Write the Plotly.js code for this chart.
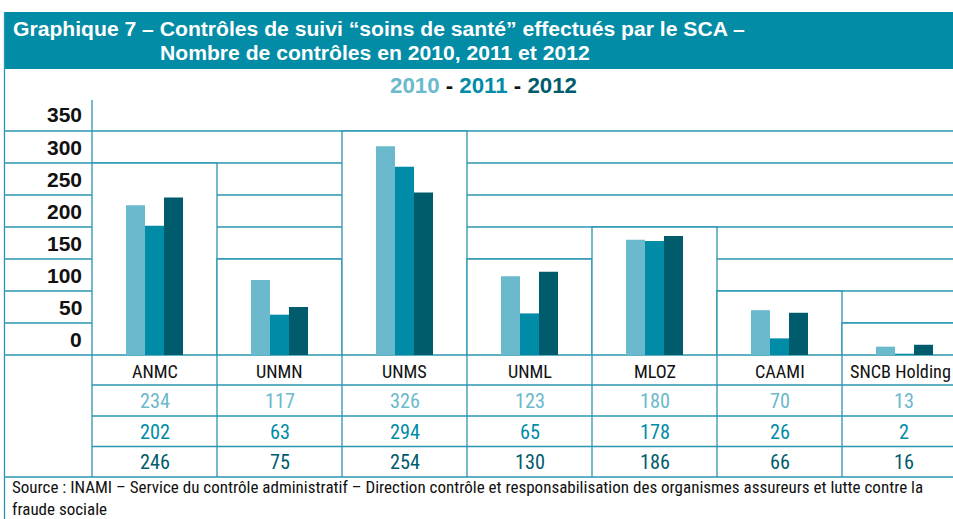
<!DOCTYPE html>
<html><head><meta charset="utf-8">
<script src="https://cdn.plot.ly/plotly-3.0.1.min.js"></script>
<style>html,body{margin:0;padding:0;background:#fff;}#chart{width:953px;height:519px;}</style>
</head><body><div id="chart"></div>
<script>
const categories = ["ANMC","UNMN","UNMS","UNML","MLOZ","CAAMI","SNCB Holding"];
const years = ["2010","2011","2012"];
const v2010 = [234,117,326,123,180,70,13];
const v2011 = [202,63,294,65,178,26,2];
const v2012 = [246,75,254,130,186,66,16];
const boxTop = [300,150,350,150,200,100,50];
const yTicks = [0,50,100,150,200,250,300,350];
const titleLine1 = "Graphique 7 – Contrôles de suivi “soins de santé” effectués par le SCA –";
const titleLine2 = "Nombre de contrôles en 2010, 2011 et 2012";
const sourceLine1 = "Source : INAMI – Service du contrôle administratif – Direction contrôle et responsabilisation des organismes assureurs et lutte contre la";
const sourceLine2 = "fraude sociale";

const colors = ["#6bb9cc","#008ca7","#005b6c"];
const lineCol = "#2b96af";
const W = 953, H = 519;
const px = x => x / W, py = y => 1 - y / H;
const BOLD = "'Liberation Sans',Arial,sans-serif";

// pick an installed narrow font and fit sizes to the reference text widths
const ctx = document.createElement("canvas").getContext("2d");
function width(font, text){ ctx.font = font; return ctx.measureText(text).width; }
function available(fam){
  const t = "abcdefghijklmnop 0123456789";
  return ["monospace","serif"].some(fb => Math.abs(width("40px '"+fam+"',"+fb, t) - width("40px "+fb, t)) > 0.5);
}
const narrowCandidates = ["Liberation Sans Narrow","Noto Sans Condensed","Roboto Condensed","Noto Sans ExtraCondensed","DejaVu Sans Condensed"];
let narrowFam = narrowCandidates.find(available) || "DejaVu Sans Condensed";
const NARROW = "'" + narrowFam + "',sans-serif";
function fitSize(fam, weight, text, target){ const w = width(weight+" 100px "+fam, text); return 100 * target / w; }
const srcSize = Math.min(18, fitSize(NARROW, "normal", sourceLine1, 912));
const catSize = Math.min(21, fitSize(NARROW, "normal", "SNCB Holding", 101));
const valSize = Math.min(22, fitSize(NARROW, "normal", "2340", 40));
const titleSize = fitSize(BOLD, "bold", titleLine1, 733);
const legSize = fitSize(BOLD, "bold", "2010 - 2011 - 2012", 187);

const series = [v2010, v2011, v2012];
const traces = series.map((vals, i) => ({
  type: "bar", x: categories, y: vals, name: years[i],
  marker: {color: colors[i], line: {width: 0}}, hoverinfo: "x+y+name", showlegend: false
}));

const shapes = [];
shapes.push({type:"rect", xref:"paper", yref:"paper", x0:px(4), x1:1, y0:py(69), y1:py(12), fillcolor:"#038ca6", line:{width:0}, layer:"below"});
[50,100,150,200,250,300,350,400].forEach(v => shapes.push({type:"line", xref:"paper", yref:"y", x0:px(4), x1:1, y0:v, y1:v, line:{color:lineCol, width:1.3}, layer:"below"}));
categories.forEach((c, i) => shapes.push({type:"rect", xref:"x", yref:"y", x0:i-0.5, x1:i+0.5, y0:0, y1:boxTop[i], fillcolor:"#ffffff", line:{color:lineCol, width:1.3}, layer:"below"}));
shapes.push({type:"line", xref:"paper", yref:"paper", x0:px(92), x1:px(92), y0:py(477), y1:py(100), line:{color:lineCol, width:1.3}, layer:"below"});
shapes.push({type:"line", xref:"paper", yref:"paper", x0:px(4.5), x1:px(4.5), y0:0, y1:py(12), line:{color:lineCol, width:1.3}, layer:"below"});
[355,385,416,446.5,477].forEach(y => shapes.push({type:"line", xref:"paper", yref:"paper", x0:(y===355||y===477)?px(4):px(92), x1:1, y0:py(y), y1:py(y), line:{color:lineCol, width:1.3}, layer:"below"}));
categories.forEach((c, i) => shapes.push({type:"line", xref:"x", yref:"paper", x0:i+0.5, x1:i+0.5, y0:py(477), y1:py(355), line:{color:lineCol, width:1.3}, layer:"below"}));

const annotations = [];
annotations.push({xref:"paper", yref:"paper", x:px(11), y:py(29), xanchor:"left", yanchor:"middle", showarrow:false,
  text:"<b>"+titleLine1+"</b>", font:{family:BOLD, size:titleSize, color:"#ffffff"}});
annotations.push({xref:"paper", yref:"paper", x:px(158), y:py(52), xanchor:"left", yanchor:"middle", showarrow:false,
  text:"<b>"+titleLine2+"</b>", font:{family:BOLD, size:titleSize, color:"#ffffff"}});
annotations.push({xref:"paper", yref:"paper", x:px(483), y:py(86), xanchor:"center", yanchor:"middle", showarrow:false,
  text:"<b><span style='color:"+colors[0]+"'>"+years[0]+"</span> - <span style='color:"+colors[1]+"'>"+years[1]+"</span> - <span style='color:"+colors[2]+"'>"+years[2]+"</span></b>",
  font:{family:BOLD, size:legSize, color:"#111111"}});
yTicks.forEach(v => annotations.push({xref:"paper", yref:"y", x:px(84), y:v+25, xanchor:"right", yanchor:"middle", showarrow:false,
  text:"<b>"+v+"</b>", font:{family:BOLD, size:21, color:"#111111"}}));
const rowY = [401, 431.5, 462];
categories.forEach((c, i) => {
  const last = i === categories.length - 1;
  annotations.push({xref:"x", yref:"paper", x:i, y:py(371), xanchor:"center", yanchor:"middle", showarrow:false, xshift: last ? -4 : 0,
    text:c, font:{family:NARROW, size:catSize, color:"#111111"}});
  series.forEach((s, k) => annotations.push({xref:"x", yref:"paper", x:i, y:py(rowY[k]), xanchor:"center", yanchor:"middle", showarrow:false, xshift: last ? -1 : 0,
    text:String(s[i]), font:{family:NARROW, size:valSize, color:colors[k]}}));
});
annotations.push({xref:"paper", yref:"paper", x:px(11), y:py(498), xanchor:"left", yanchor:"middle", align:"left", showarrow:false, borderpad:0,
  text:sourceLine1 + "<br>" + sourceLine2, font:{family:NARROW, size:srcSize, color:"#111111"}});

const layout = {
  width: W, height: H, margin: {l:0, r:0, t:0, b:0}, paper_bgcolor:"#ffffff", plot_bgcolor:"rgba(0,0,0,0)",
  barmode:"group", bargap:0.544, bargroupgap:0,
  xaxis: {domain:[px(92),1], range:[-0.5, -0.5 + (W-92)/125], type:"category", showgrid:false, zeroline:false, showticklabels:false, showline:false, fixedrange:true},
  yaxis: {domain:[py(355), py(100)], range:[0, 255/0.64], showgrid:false, zeroline:false, showticklabels:false, showline:false, fixedrange:true},
  shapes, annotations, showlegend:false
};
Plotly.newPlot("chart", traces, layout, {displayModeBar:false, staticPlot:true});
</script></body></html>
